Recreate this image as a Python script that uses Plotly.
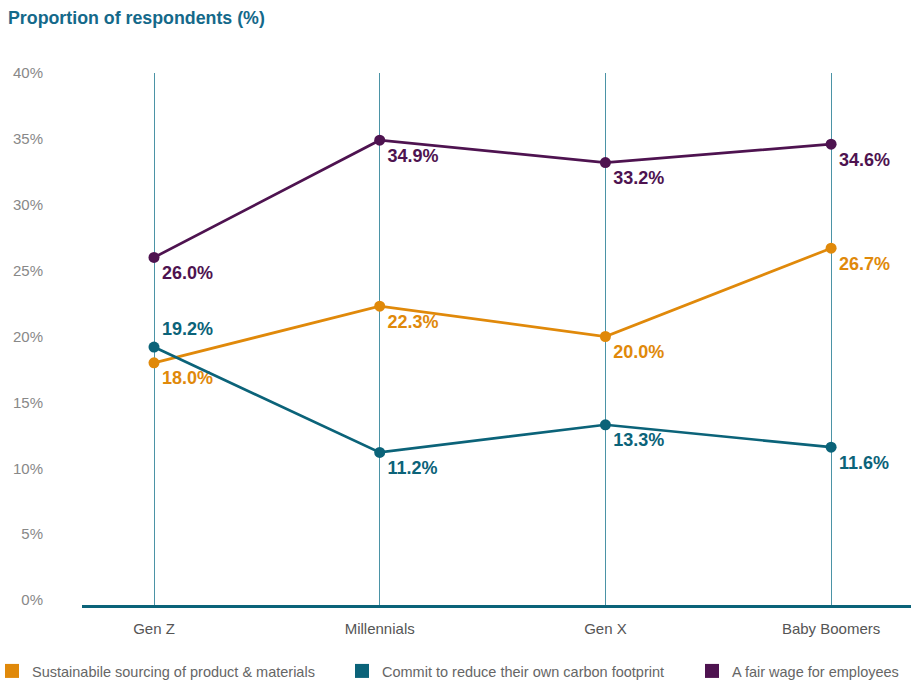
import plotly.graph_objects as go

generations = ["Gen Z", "Millennials", "Gen X", "Baby Boomers"]

sourcing = [18.0, 22.3, 20.0, 26.7]
carbon = [19.2, 11.2, 13.3, 11.6]
fair_wage = [26.0, 34.9, 33.2, 34.6]

series_names = [
    "Sustainabile sourcing of product & materials",
    "Commit to reduce their own carbon footprint",
    "A fair wage for employees",
]

y_ticks = [0, 5, 10, 15, 20, 25, 30, 35, 40]
y_tick_text = [f"{v}%" for v in y_ticks]

ORANGE = "#e0890a"
TEAL = "#0b6379"
PURPLE = "#4e1350"

W, H = 911, 681
M_L, M_R, M_T, M_B = 82, 0, 73, 76
PLOT_W = W - M_L - M_R
PLOT_H = H - M_T - M_B

fig = go.Figure()

series = [
    (sourcing, ORANGE, ["bottom right"] * 4),
    (carbon, TEAL, ["top right", "bottom right", "bottom right", "bottom right"]),
    (fair_wage, PURPLE, ["bottom right"] * 4),
]

for values, color, positions in series:
    fig.add_trace(go.Scatter(
        x=generations,
        y=values,
        mode="lines+markers+text",
        line=dict(color=color, width=2.7),
        marker=dict(color=color, size=11),
        text=[f"{v:.1f}%" for v in values],
        textposition=positions,
        textfont=dict(family="Liberation Sans, Arial, sans-serif", size=18, color=color, weight="bold"),
        showlegend=False,
        hoverinfo="skip",
        cliponaxis=False,
    ))

# one legend per series, each a single square swatch, laid out in a row
legend_ids = ["legend", "legend2", "legend3"]
legend_left_px = [-8, 342, 692]
for name, (_, color, _), lid in zip(series_names, series, legend_ids):
    fig.add_trace(go.Scatter(
        x=[None], y=[None],
        mode="markers",
        marker=dict(color=color, size=14, symbol="square"),
        name=name,
        legend=lid,
    ))

legend_style = dict(
    orientation="h",
    xanchor="left",
    yanchor="middle",
    y=-(671 - (H - M_B)) / PLOT_H,
    font=dict(size=14.5, color="#666666"),
    itemclick=False,
    itemdoubleclick=False,
    bgcolor="rgba(0,0,0,0)",
)
legend_layout = {
    lid: dict(legend_style, x=(px - M_L) / PLOT_W)
    for lid, px in zip(legend_ids, legend_left_px)
}

fig.update_layout(
    width=W,
    height=H,
    margin=dict(l=M_L, r=M_R, t=M_T, b=M_B, autoexpand=False),
    plot_bgcolor="white",
    paper_bgcolor="white",
    font=dict(family="Liberation Sans, Arial, sans-serif"),
    title=dict(
        text="Proportion of respondents (%)",
        xref="container", x=8 / W, xanchor="left",
        yref="container", y=1 - 18 / H, yanchor="middle",
        font=dict(size=17.8, color="#14698a", weight="bold"),
    ),
    xaxis=dict(
        type="category",
        range=[-0.319, 3.354],
        showgrid=True,
        gridcolor="#4b93a6",
        gridwidth=1,
        showline=True,
        linecolor="#0b6379",
        linewidth=3,
        ticks="",
        tickfont=dict(size=15, color="#555555"),
        ticklabelstandoff=8,
        fixedrange=True,
    ),
    yaxis=dict(
        range=[-0.38, 40],
        tickvals=y_ticks,
        ticktext=y_tick_text,
        showgrid=False,
        zeroline=False,
        showline=False,
        tickfont=dict(size=15, color="#888888"),
        ticklabelstandoff=38,
        fixedrange=True,
    ),
    **legend_layout,
)

fig.write_html("out.html")
